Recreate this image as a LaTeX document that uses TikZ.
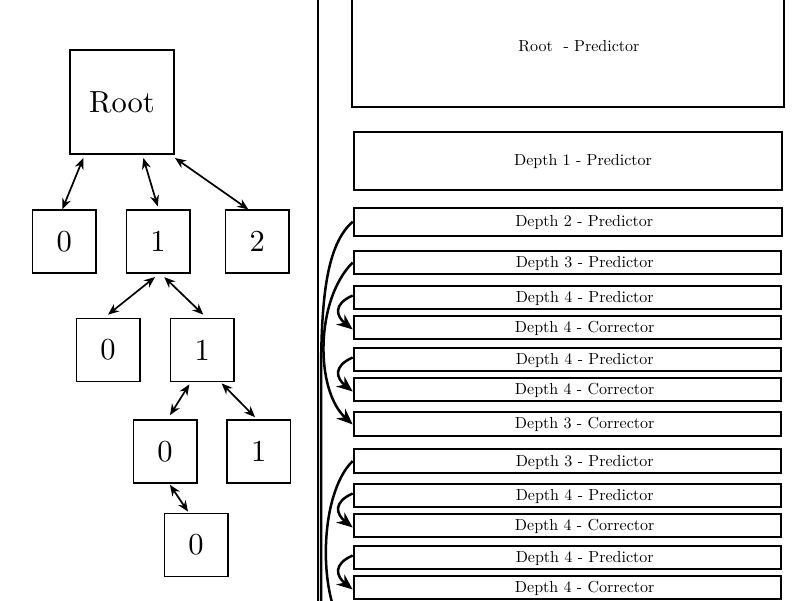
\documentclass[tikz,border=0pt]{standalone}
\usepackage{graphicx}
\usetikzlibrary{arrows.meta}
\newcommand{\treetxt}[1]{\scalebox{3.05}{#1}}
\newcommand{\rowtxt}[1]{\raisebox{-5.2pt}[0pt][0pt]{\scalebox{1.6}{#1}}}
\begin{document}
\begin{tikzpicture}[x=1pt,y=-1pt,
  tbox/.style={draw, line width=1.7pt, minimum width=63.3pt, minimum height=63pt, inner sep=0pt, font=\fontsize{10}{12}\selectfont},
  rbox/.style={draw, line width=2pt, inner sep=0pt, minimum width=427pt, minimum height=23pt, font=\fontsize{10}{12}\selectfont},
  tarrow/.style={{Stealth[length=11pt,width=9pt]}-{Stealth[length=11pt,width=9pt]}, line width=1.7pt},
  carrow/.style={-{Stealth[length=16pt,width=13pt]}, line width=2.5pt},
  sepline/.style={line width=2pt}
]
\useasboundingbox (0,0) rectangle (800,600);
\clip (0,0) rectangle (800,600);
% tree
\node[tbox, minimum width=104.3pt, minimum height=104.3pt] (root) at (122,102) {\treetxt{Root}};
\node[tbox] (t0) at (64.2,241.7) {\treetxt{0}};
\node[tbox] (t1) at (158,241.7) {\treetxt{1}};
\node[tbox] (t2) at (257.2,241.7) {\treetxt{2}};
\node[tbox] (l20) at (108,350) {\treetxt{0}};
\node[tbox] (l21) at (202.2,350) {\treetxt{1}};
\node[tbox] (l30) at (165,451.5) {\treetxt{0}};
\node[tbox] (l31) at (258.8,451.5) {\treetxt{1}};
\node[tbox] (l40) at (196,545) {\treetxt{0}};
\draw[tarrow] ([xshift=-38.7pt,yshift=-3pt]root.south) -- ([xshift=-1.9pt]t0.north);
\draw[tarrow] ([xshift=21.3pt,yshift=-3pt]root.south) -- ([xshift=-0.3pt,yshift=3pt]t1.north);
\draw[tarrow] ([yshift=-3pt]root.south east) -- ([xshift=-8.9pt]t2.north);
\draw[tarrow] ([xshift=-3pt,yshift=-3pt]t1.south) -- ([yshift=3pt]l20.north);
\draw[tarrow] ([xshift=6.3pt,yshift=-3pt]t1.south) -- ([xshift=1.1pt,yshift=3pt]l21.north);
\draw[tarrow] ([xshift=-12.9pt,yshift=-2pt]l21.south) -- ([xshift=5pt,yshift=4pt]l30.north);
\draw[tarrow] ([xshift=19.5pt,yshift=-1pt]l21.south) -- ([xshift=-3.8pt,yshift=2pt]l31.north);
\draw[tarrow] ([xshift=5pt,yshift=-1pt]l30.south) -- ([xshift=-8pt,yshift=1pt]l40.north);
% separator
\coordinate (sepTop) at (318,-5);
\coordinate (sepBot) at (318,605);
\draw[sepline] (sepTop) -- (sepBot);
% right column
\node[rbox, minimum width=432pt, minimum height=120pt] (rp) at (567.9,46.7) {\hspace*{22pt}\rowtxt{Root\ \ - Predictor}};
\node[rbox, minimum width=428.6pt, minimum height=58pt] (d1p) at (568,160.7) {\hspace*{30pt}\rowtxt{Depth 1 - Predictor}};
\node[rbox, minimum width=428pt, minimum height=28pt] (d2p) at (567.7,221.7) {\hspace*{33pt}\rowtxt{Depth 2 - Predictor}};
\node[rbox] (d3pa) at (567.2,262.5) {\hspace*{35pt}\rowtxt{Depth 3 - Predictor}};
\node[rbox] (d4pa) at (567.2,297.5) {\hspace*{35pt}\rowtxt{Depth 4 - Predictor}};
\node[rbox] (d4ca) at (567.2,327.5) {\hspace*{35pt}\rowtxt{Depth 4 - Corrector}};
\node[rbox] (d4pb) at (567.2,359.5) {\hspace*{35pt}\rowtxt{Depth 4 - Predictor}};
\node[rbox] (d4cb) at (567.2,389.5) {\hspace*{35pt}\rowtxt{Depth 4 - Corrector}};
\node[rbox, minimum height=24pt] (d3ca) at (567.2,423.5) {\hspace*{35pt}\rowtxt{Depth 3 - Corrector}};
\node[rbox, minimum height=24pt] (d3pb) at (567.2,461) {\hspace*{35pt}\rowtxt{Depth 3 - Predictor}};
\node[rbox] (d4pc) at (567.2,495.5) {\hspace*{35pt}\rowtxt{Depth 4 - Predictor}};
\node[rbox] (d4cc) at (567.2,525.5) {\hspace*{35pt}\rowtxt{Depth 4 - Corrector}};
\node[rbox] (d4pd) at (567.2,557.5) {\hspace*{35pt}\rowtxt{Depth 4 - Predictor}};
\node[rbox] (d4cd) at (567.2,587.5) {\hspace*{35pt}\rowtxt{Depth 4 - Corrector}};
% off-page targets
\coordinate (d3cbend) at (353,640);
\coordinate (d2cend) at (353,720);
% curved connectors
\draw[carrow] (d2p.west) .. controls (326,245) and (321,300) .. (321,380) -- (321,640) .. controls (321,690) and (335,710) .. (d2cend);
\draw[carrow] (d3pa.west) .. controls (315,300) and (315,390) .. ([yshift=-1pt]d3ca.west);
\draw[carrow] ([yshift=2pt]d4pa.west) .. controls (333,304) and (336,316) .. ([yshift=-2pt]d4ca.west);
\draw[carrow] ([yshift=2pt]d4pb.west) .. controls (333,366) and (336,378) .. ([yshift=-2pt]d4cb.west);
\draw[carrow] (d3pb.west) .. controls (318,495) and (318,600) .. (d3cbend);
\draw[carrow] ([yshift=2pt]d4pc.west) .. controls (333,502) and (336,514) .. ([yshift=-2pt]d4cc.west);
\draw[carrow] ([yshift=2pt]d4pd.west) .. controls (333,564) and (336,576) .. ([yshift=-2pt]d4cd.west);
\end{tikzpicture}
\end{document}
